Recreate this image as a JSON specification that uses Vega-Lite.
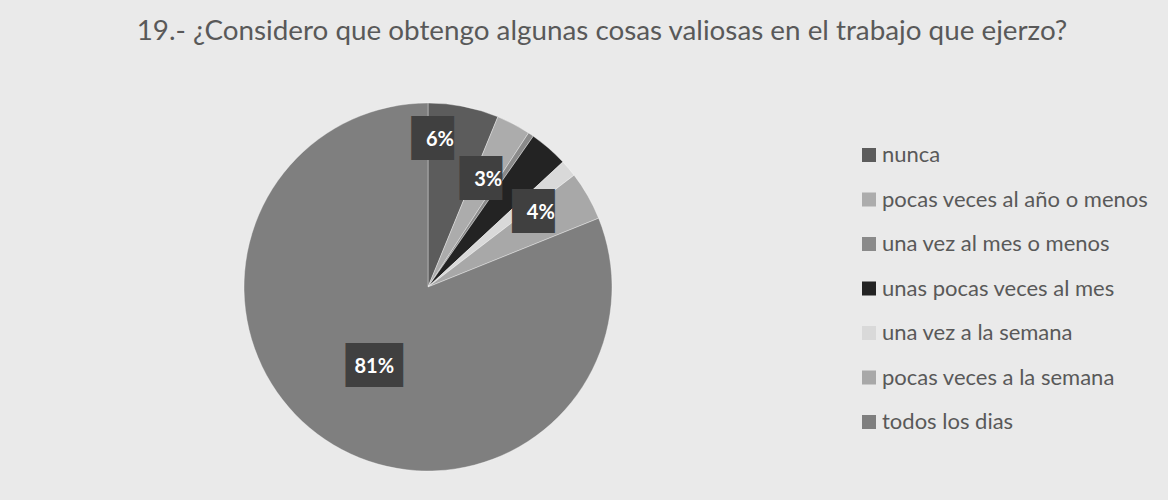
{
  "$schema": "https://vega.github.io/schema/vega-lite/v6.json",
  "autosize": "none",
  "width": 368,
  "height": 368,
  "padding": {"left": 244, "top": 103, "right": 556, "bottom": 29},
  "background": "#eaeaea",
  "title": {
    "text": "19.- ¿Considero que obtengo algunas cosas valiosas en el trabajo que ejerzo?",
    "font": "Lato",
    "fontSize": 27.8,
    "fontWeight": "normal",
    "color": "#595959",
    "anchor": "middle",
    "frame": "group",
    "dx": 174,
    "offset": 56
  },
  "data": {
    "values": [
      {"cat": "nunca", "o": 1, "value": 6.2, "lbl": "6%"},
      {"cat": "pocas veces al año o menos", "o": 2, "value": 3.0, "lbl": "3%"},
      {"cat": "una vez al mes o menos", "o": 3, "value": 0.5, "lbl": ""},
      {"cat": "unas pocas veces al mes", "o": 4, "value": 3.4, "lbl": ""},
      {"cat": "una vez a la semana", "o": 5, "value": 1.5, "lbl": ""},
      {"cat": "pocas veces a la semana", "o": 6, "value": 4.3, "lbl": "4%"},
      {"cat": "todos los dias", "o": 7, "value": 81.1, "lbl": "81%"}
    ]
  },
  "encoding": {
    "theta": {"field": "value", "type": "quantitative", "stack": true},
    "order": {"field": "o", "type": "quantitative"}
  },
  "layer": [
    {
      "mark": {"type": "arc", "radius": 184, "stroke": "#ffffff", "strokeWidth": 0.6, "strokeOpacity": 0.6},
      "encoding": {
        "color": {
          "field": "cat",
          "type": "nominal",
          "scale": {
            "domain": ["nunca", "pocas veces al año o menos", "una vez al mes o menos", "unas pocas veces al mes", "una vez a la semana", "pocas veces a la semana", "todos los dias"],
            "range": ["#5c5c5c", "#acacac", "#8a8a8a", "#232323", "#d9d9d9", "#a8a8a8", "#7f7f7f"]
          },
          "legend": {
            "title": null,
            "orient": "none",
            "legendX": 614,
            "legendY": 41,
            "symbolType": "square",
            "symbolSize": 196,
            "symbolStrokeWidth": 0,
            "labelFont": "Lato",
            "labelFontSize": 22,
            "labelColor": "#595959",
            "labelOffset": 2,
            "labelLimit": 400,
            "rowPadding": 22.5
          }
        }
      }
    },
    {
      "mark": {"type": "text", "radius": 147, "thetaOffset": -0.113, "font": "DejaVu Sans", "fontSize": 37, "color": "#404040", "baseline": "middle"},
      "encoding": {"text": {"condition": {"test": "datum.o == 1", "value": "█▌"}, "value": ""}}
    },
    {
      "mark": {"type": "text", "radius": 147, "thetaOffset": -0.113, "font": "Lato", "fontSize": 20, "fontWeight": "bold", "color": "#ffffff", "baseline": "middle"},
      "encoding": {"text": {"condition": {"test": "datum.o == 1", "field": "lbl"}, "value": ""}}
    },
    {
      "mark": {"type": "text", "radius": 123, "thetaOffset": 0.028, "font": "DejaVu Sans", "fontSize": 37, "color": "#404040", "baseline": "middle"},
      "encoding": {"text": {"condition": {"test": "datum.o == 2", "value": "█▌"}, "value": ""}}
    },
    {
      "mark": {"type": "text", "radius": 123, "thetaOffset": 0.028, "font": "Lato", "fontSize": 20, "fontWeight": "bold", "color": "#ffffff", "baseline": "middle"},
      "encoding": {"text": {"condition": {"test": "datum.o == 2", "field": "lbl"}, "value": ""}}
    },
    {
      "mark": {"type": "text", "radius": 135, "thetaOffset": -0.063, "font": "DejaVu Sans", "fontSize": 37, "color": "#404040", "baseline": "middle"},
      "encoding": {"text": {"condition": {"test": "datum.o == 6", "value": "█▌"}, "value": ""}}
    },
    {
      "mark": {"type": "text", "radius": 135, "thetaOffset": -0.063, "font": "Lato", "fontSize": 20, "fontWeight": "bold", "color": "#ffffff", "baseline": "middle"},
      "encoding": {"text": {"condition": {"test": "datum.o == 6", "field": "lbl"}, "value": ""}}
    },
    {
      "mark": {"type": "text", "radius": 96, "font": "DejaVu Sans", "fontSize": 37, "color": "#404040", "baseline": "middle"},
      "encoding": {"text": {"condition": {"test": "datum.o == 7", "value": "██"}, "value": ""}}
    },
    {
      "mark": {"type": "text", "radius": 96, "font": "Lato", "fontSize": 20, "fontWeight": "bold", "color": "#ffffff", "baseline": "middle"},
      "encoding": {"text": {"condition": {"test": "datum.o == 7", "field": "lbl"}, "value": ""}}
    }
  ]
}
